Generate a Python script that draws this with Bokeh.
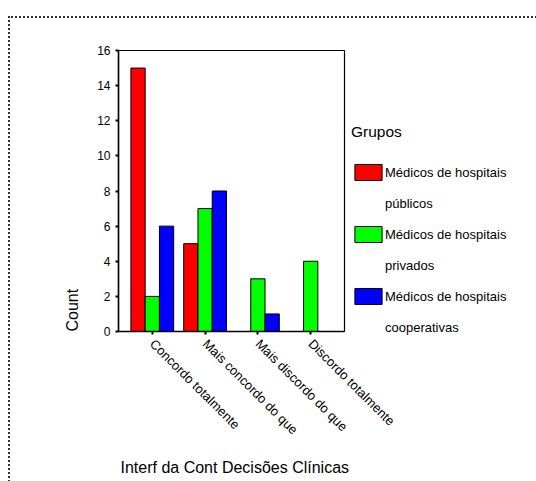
from math import pi
from bokeh.plotting import figure
from bokeh.models import (ColumnDataSource, FactorRange, Range1d, FixedTicker,
                          Title, Legend, LegendItem, InlineStyleSheet)
from bokeh.transform import dodge
from bokeh.embed import file_html
from bokeh.resources import INLINE

# ---- data ----
categories = ["Concordo totalmente", "Mais concordo do que",
              "Mais discordo do que", "Discordo totalmente"]
publicos = [15, 5, 0, 0]
privados = [2, 7, 3, 4]
cooperativas = [6, 8, 1, 0]
series_names = ["Médicos de hospitais\npúblicos",
                "Médicos de hospitais\nprivados",
                "Médicos de hospitais\ncooperativas"]
series_colors = ["#ff0000", "#00ff00", "#0000ff"]
y_ticks = [0, 2, 4, 6, 8, 10, 12, 14, 16]
legend_title = "Grupos"
x_title = "Interf da Cont Decisões Clínicas"
y_title = "Count"

FONT = "Liberation Sans"

src = ColumnDataSource(dict(cat=categories, pub=publicos, pri=privados, coo=cooperativas))

p = figure(frame_width=226, frame_height=281, output_backend="svg", toolbar_location=None,
           x_range=FactorRange(factors=categories, range_padding=0.14,
                               range_padding_units="absolute"),
           y_range=Range1d(0, 16),
           min_border_left=118, min_border_right=192,
           min_border_top=50, min_border_bottom=150)
p.background_fill_color = "white"
p.border_fill_color = "white"
p.outline_line_color = "black"
p.outline_line_width = 1.2
p.xgrid.grid_line_color = None
p.ygrid.grid_line_color = None

w = 0.27
renderers = []
for col, off, color in zip(["pub", "pri", "coo"], [-w, 0, w], series_colors):
    r = p.vbar(x=dodge("cat", off, range=p.x_range), top=col, bottom=0, width=w,
               source=src, fill_color=color, line_color="black", line_width=1)
    renderers.append(r)
# invisible renderer used only for the second line of each legend entry
ghost = p.vbar(x=[], top=[], width=w, fill_alpha=0, line_alpha=0)

# axes
p.yaxis.ticker = FixedTicker(ticks=y_ticks)
p.yaxis.minor_tick_line_color = None
for ax in (p.xaxis[0], p.yaxis[0]):
    ax.axis_line_color = "black"
    ax.axis_line_width = 1.5
    ax.major_tick_line_color = "black"
    ax.major_tick_line_width = 2
    ax.major_tick_out = 3
    ax.major_tick_in = 0
    ax.major_label_text_font = FONT
    ax.major_label_text_color = "black"
p.yaxis.major_label_text_font_size = "12px"
p.yaxis.major_label_standoff = 5
p.xaxis.major_label_text_font_size = "13px"
p.xaxis.major_label_orientation = -pi / 4
p.xaxis.major_label_standoff = 7

# axis titles as side-panel titles
p.add_layout(Title(text=y_title, align="left", offset=0, standoff=28,
                   text_font=FONT, text_font_size="16px", text_font_style="normal",
                   text_color="black"), "left")
p.add_layout(Title(text=x_title, align="left", offset=2, standoff=22,
                   text_font=FONT, text_font_size="16px", text_font_style="normal",
                   text_color="black"), "below")

# legend: each group name on two lines
items = []
for name, r in zip(series_names, renderers):
    first, second = name.split("\n")
    items.append(LegendItem(label=first, renderers=[r]))
    items.append(LegendItem(label=second, renderers=[ghost]))
legend = Legend(items=items, title=legend_title, location=(7, -6),
                orientation="vertical", glyph_width=34, glyph_height=20,
                label_height=20, label_standoff=-3, spacing=11, padding=0, margin=0,
                border_line_color=None, background_fill_alpha=0,
                title_text_font=FONT, title_text_font_size="15.5px",
                title_text_font_style="normal", title_text_color="black",
                title_standoff=21,
                label_text_font=FONT, label_text_font_size="13px",
                label_text_color="black")
p.add_layout(legend, "right")

# dotted outer border of the chart area
p.stylesheets.append(InlineStyleSheet(css=""":host::after {
  content: ""; position: absolute; left: 8px; top: 16px; right: 0; bottom: 0;
  border-left: 2px dotted #333; border-top: 2px dotted #333; pointer-events: none;
}"""))

open("out.html", "w").write(file_html(p, INLINE))
